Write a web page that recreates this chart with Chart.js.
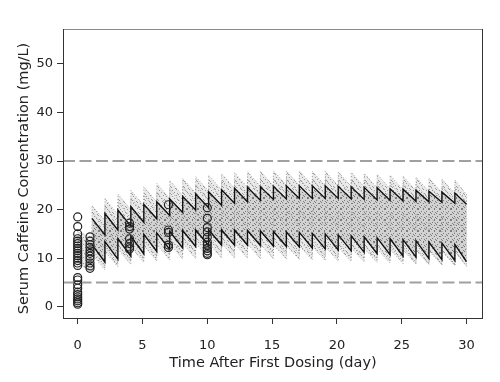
<!DOCTYPE html>
<html>
<head>
<meta charset="utf-8">
<script src="https://cdn.jsdelivr.net/npm/chart.js@4.4.1/dist/chart.umd.min.js"></script>
<style>
  html, body { margin: 0; padding: 0; background: #fff; }
  canvas { display: block; }
</style>
</head>
<body>
<canvas id="c" width="500" height="382"></canvas>
<script>
// ---------------- data ----------------
const xTicks = [0, 5, 10, 15, 20, 25, 30];
const yTicks = [0, 10, 20, 30, 40, 50];

// daily maintenance doses (day)
const doseDays = [1.1, 2.1, 3.1, 4.1, 5.1, 6.1, 7.1, 8.1, 9.1, 10.1,
                  11.1, 12.1, 13.1, 14.1, 15.1, 16.1, 17.1, 18.1, 19.1, 20.1,
                  21.1, 22.1, 23.1, 24.1, 25.1, 26.1, 27.1, 28.1, 29.1];
const endDay = 30;

// upper prediction line: post-dose peaks and next pre-dose troughs (mg/L)
const upperPeaks = [18.2, 19.2, 19.9, 20.6, 21.1, 21.6, 22.2, 22.7, 23.2, 23.7,
                    24.1, 24.4, 24.6, 24.7, 24.8, 24.9, 24.9, 24.9, 24.9, 24.8,
                    24.7, 24.6, 24.5, 24.3, 24.2, 24.0, 23.8, 23.6, 23.4];
const upperTroughs = [14.8, 15.8, 16.6, 17.4, 18.1, 18.8, 19.4, 19.9, 20.4, 20.9,
                      21.3, 21.6, 21.9, 22.1, 22.2, 22.3, 22.3, 22.3, 22.3, 22.2,
                      22.1, 22.0, 21.9, 21.8, 21.7, 21.6, 21.5, 21.3, 21.1];
// lower prediction line
const lowerPeaks = [12.8, 13.4, 14.0, 14.5, 14.9, 15.2, 15.5, 15.7, 15.8, 15.8,
                    15.8, 15.8, 15.7, 15.6, 15.5, 15.4, 15.3, 15.1, 15.0, 14.8,
                    14.6, 14.4, 14.2, 14.0, 13.8, 13.6, 13.3, 13.1, 12.8];
const lowerTroughs = [9.2, 9.8, 10.4, 10.9, 11.4, 11.8, 12.1, 12.4, 12.6, 12.7,
                      12.7, 12.7, 12.6, 12.5, 12.4, 12.3, 12.1, 11.9, 11.7, 11.5,
                      11.2, 10.9, 10.7, 10.4, 10.2, 9.9, 9.7, 9.5, 9.3];

// envelope of simulated individual profiles (dotted cloud)
const cloudStartDay = 0;
const cloudTopStart = [15.4, 14.3];   // day 0 and just before first maintenance dose
const cloudBotStart = [8.8, 7.4];
const cloudTopPeaks = [20.8, 22.3, 23.2, 24.0, 24.7, 25.4, 26.0, 26.4, 26.8, 27.1,
                       27.4, 27.6, 27.8, 27.9, 28.0, 28.0, 28.0, 27.9, 27.9, 27.8,
                       27.7, 27.5, 27.3, 27.1, 26.9, 26.7, 26.5, 26.3, 26.1];
const cloudTopTroughs = [17.8, 19.0, 20.0, 20.8, 21.6, 22.3, 22.9, 23.4, 23.8, 24.1,
                         24.4, 24.6, 24.8, 24.9, 25.0, 25.0, 25.0, 24.9, 24.9, 24.8,
                         24.7, 24.5, 24.3, 24.1, 23.9, 23.7, 23.5, 23.3, 23.1];
const cloudBotPeaks = [10.8, 11.4, 11.9, 12.3, 12.6, 12.8, 13.0, 13.1, 13.1, 13.1,
                       13.1, 13.0, 12.9, 12.8, 12.7, 12.6, 12.5, 12.4, 12.3, 12.2,
                       12.1, 12.0, 11.9, 11.8, 11.7, 11.6, 11.5, 11.4, 11.3];
const cloudBotTroughs = [7.6, 8.2, 8.7, 9.1, 9.4, 9.6, 9.8, 9.9, 10.0, 10.0,
                         10.0, 10.0, 9.9, 9.9, 9.8, 9.7, 9.6, 9.5, 9.4, 9.3,
                         9.2, 9.1, 9.0, 8.9, 8.8, 8.7, 8.6, 8.5, 8.4];

// a few individual simulated profiles (dotted)
const indivHighPeaks = [19.5, 20.8, 21.6, 22.4, 23.0, 23.6, 24.2, 24.7, 25.1, 25.5,
                        25.8, 26.0, 26.2, 26.3, 26.4, 26.4, 26.4, 26.3, 26.3, 26.2,
                        26.1, 26.0, 25.8, 25.6, 25.4, 25.2, 25.0, 24.8, 24.6];
const indivHighTroughs = [16.2, 17.3, 18.2, 19.0, 19.8, 20.4, 21.0, 21.5, 21.9, 22.3,
                          22.6, 22.8, 23.0, 23.1, 23.2, 23.2, 23.2, 23.1, 23.1, 23.0,
                          22.9, 22.8, 22.6, 22.4, 22.3, 22.1, 21.9, 21.7, 21.5];
const indivMidPeaks = [15.5, 16.3, 17.0, 17.6, 18.1, 18.5, 18.9, 19.2, 19.5, 19.7,
                       19.9, 20.0, 20.1, 20.1, 20.1, 20.1, 20.0, 20.0, 19.9, 19.8,
                       19.7, 19.6, 19.5, 19.3, 19.2, 19.0, 18.9, 18.7, 18.5];
const indivMidTroughs = [12.0, 12.8, 13.5, 14.1, 14.6, 15.0, 15.4, 15.7, 16.0, 16.2,
                         16.4, 16.5, 16.6, 16.6, 16.6, 16.6, 16.5, 16.5, 16.4, 16.3,
                         16.2, 16.1, 16.0, 15.8, 15.7, 15.5, 15.4, 15.2, 15.0];
const indivLowPeaks = [11.8, 12.4, 12.9, 13.4, 13.7, 14.0, 14.2, 14.3, 14.4, 14.4,
                       14.4, 14.3, 14.2, 14.1, 14.0, 13.9, 13.8, 13.6, 13.5, 13.3,
                       13.1, 12.9, 12.7, 12.5, 12.3, 12.1, 11.9, 11.7, 11.5];
const indivLowTroughs = [8.4, 9.0, 9.5, 10.0, 10.4, 10.7, 10.9, 11.1, 11.2, 11.2,
                         11.2, 11.2, 11.1, 11.0, 10.9, 10.8, 10.6, 10.5, 10.3, 10.1,
                         9.9, 9.7, 9.5, 9.3, 9.1, 8.9, 8.7, 8.5, 8.3];

// observed serum concentrations
const obsTimes = [0, 0.95, 4, 7, 10];
const obsValues = [
  [18.5, 16.5, 15.0, 14.0, 13.5, 13.0, 12.5, 12.0, 11.5, 11.0, 10.5, 10.0, 9.5, 9.0, 8.5,
   6.0, 5.5, 4.5, 3.8, 3.0, 2.5, 2.0, 1.6, 1.2, 0.8, 0.5],
  [14.4, 13.5, 12.8, 12.2, 11.5, 11.0, 10.4, 9.8, 9.0, 8.4, 7.9],
  [17.2, 16.5, 16.0, 14.0, 13.0, 12.3, 11.9],
  [21.0, 15.8, 15.3, 12.7, 12.2],
  [20.4, 18.2, 16.3, 15.4, 14.3, 13.3, 12.7, 12.0, 11.5, 11.0, 10.7]
];

// therapeutic range limits
const upperLimit = 30;
const lowerLimit = 5;

const xTitle = 'Time After First Dosing (day)';
const yTitle = 'Serum Caffeine Concentration (mg/L)';

// ---------------- build ----------------
const X_MIN = -1.134, X_MAX = 31.27, Y_MIN = -2.33, Y_MAX = 57.21;

function sawtooth(peaks, troughs) {
  const pts = [];
  for (let i = 0; i < peaks.length; i++) {
    pts.push({x: doseDays[i], y: peaks[i]});
    const tNext = i + 1 < doseDays.length ? doseDays[i + 1] : endDay;
    pts.push({x: tNext, y: troughs[i]});
  }
  return pts;
}

const upperLine = sawtooth(upperPeaks, upperTroughs);
const lowerLine = sawtooth(lowerPeaks, lowerTroughs);

const cloudTop = [{x: cloudStartDay, y: cloudTopStart[0]}, {x: doseDays[0], y: cloudTopStart[1]}]
  .concat(sawtooth(cloudTopPeaks, cloudTopTroughs));
const cloudBot = [{x: cloudStartDay, y: cloudBotStart[0]}, {x: doseDays[0], y: cloudBotStart[1]}]
  .concat(sawtooth(cloudBotPeaks, cloudBotTroughs));
const cloudPolygon = cloudTop.concat(cloudBot.slice().reverse());
const innerPolygon = upperLine.concat(lowerLine.slice().reverse());

const observed = [];
obsTimes.forEach((t, i) => obsValues[i].forEach(v => observed.push({x: t, y: v})));

const canvas = document.getElementById('c');
const ctx = canvas.getContext('2d');

// stipple texture (styling only)
function stipple(size, base, dotColor, rule) {
  const c = document.createElement('canvas');
  c.width = size; c.height = size;
  const g = c.getContext('2d');
  g.fillStyle = base;
  g.fillRect(0, 0, size, size);
  g.fillStyle = dotColor;
  for (let x = 0; x < size; x++)
    for (let y = 0; y < size; y++)
      if (rule(x, y)) g.fillRect(x, y, 1, 1);
  return ctx.createPattern(c, 'repeat');
}
const outerPattern = stipple(13, '#e9e9e9', '#9a9a9a', (x, y) => (x * 5 + y * 3 + x * y) % 7 === 0);
const innerPattern = stipple(11, '#d2d2d2', '#7c7c7c', (x, y) => (x * 3 + y * 7 + 2 * x * y) % 5 === 0);

const boxPlugin = {
  id: 'box',
  afterDraw(chart) {
    const {left, right, top, bottom} = chart.chartArea;
    const c = chart.ctx;
    c.save();
    c.lineWidth = 1;
    c.strokeStyle = '#8a8a8a';
    c.beginPath(); c.moveTo(left, top + 0.5); c.lineTo(right, top + 0.5); c.stroke();
    c.strokeStyle = '#333';
    c.beginPath();
    c.moveTo(left + 0.5, top); c.lineTo(left + 0.5, bottom);
    c.moveTo(left, bottom + 0.5); c.lineTo(right, bottom + 0.5);
    c.moveTo(right - 0.5, top); c.lineTo(right - 0.5, bottom);
    c.stroke();
    // y-axis title
    c.fillStyle = '#222';
    c.font = "14.5px 'DejaVu Sans', sans-serif";
    c.textAlign = 'center';
    c.textBaseline = 'middle';
    c.translate(24.5, 178.5);
    c.rotate(-Math.PI / 2);
    c.fillText(yTitle, 0, 0);
    c.restore();
  }
};

Chart.defaults.font.family = "'DejaVu Sans', sans-serif";
Chart.defaults.font.size = 13;
Chart.defaults.color = '#222';

const dotted = (label, data) => ({
  label, data, order: 8, borderColor: '#8c8c8c', borderWidth: 1, borderDash: [1, 2],
  pointRadius: 0, fill: false, tension: 0
});

new Chart(ctx, {
  type: 'line',
  data: {
    datasets: [
      { label: 'cloud', data: cloudPolygon, order: 10, borderWidth: 1, borderColor: '#a8a8a8',
        borderDash: [1, 2], pointRadius: 0, backgroundColor: outerPattern, fill: 'shape' },
      { label: 'inner', data: innerPolygon, order: 9, borderWidth: 0, pointRadius: 0,
        backgroundColor: innerPattern, fill: 'shape' },
      dotted('indiv high', sawtooth(indivHighPeaks, indivHighTroughs)),
      dotted('indiv mid', sawtooth(indivMidPeaks, indivMidTroughs)),
      dotted('indiv low', sawtooth(indivLowPeaks, indivLowTroughs)),
      { label: 'upper limit', data: [{x: X_MIN, y: upperLimit}, {x: X_MAX, y: upperLimit}], order: 6,
        borderColor: '#a0a0a0', borderWidth: 2, borderDash: [12, 4.5], pointRadius: 0, fill: false },
      { label: 'lower limit', data: [{x: X_MIN, y: lowerLimit}, {x: X_MAX, y: lowerLimit}], order: 6,
        borderColor: '#a0a0a0', borderWidth: 2, borderDash: [12, 4.5], pointRadius: 0, fill: false },
      { label: 'upper', data: upperLine, order: 3, borderColor: '#111', borderWidth: 1.4,
        pointRadius: 0, fill: false, tension: 0 },
      { label: 'lower', data: lowerLine, order: 3, borderColor: '#111', borderWidth: 1.4,
        pointRadius: 0, fill: false, tension: 0 },
      { label: 'observed', data: observed, order: 1, showLine: false, pointRadius: 4,
        pointStyle: 'circle', pointBorderColor: '#222', pointBorderWidth: 1.2,
        pointBackgroundColor: 'rgba(0,0,0,0)' }
    ]
  },
  options: {
    responsive: false,
    animation: false,
    devicePixelRatio: 1,
    layout: { padding: { left: 0, top: 29, right: 17, bottom: 0 } },
    plugins: { legend: { display: false }, tooltip: { enabled: false } },
    scales: {
      x: {
        type: 'linear', min: X_MIN, max: X_MAX,
        afterBuildTicks: s => { s.ticks = xTicks.map(v => ({value: v})); },
        afterFit: s => { s.height = 64; },
        grid: { drawOnChartArea: false, tickLength: 6, color: '#333', tickWidth: 1 },
        border: { display: false },
        ticks: { padding: 14, autoSkip: false, maxRotation: 0, color: '#222' },
        title: { display: true, text: xTitle, color: '#222',
                 font: { size: 14.5 }, padding: { top: 0, bottom: 10 } }
      },
      y: {
        type: 'linear', min: Y_MIN, max: Y_MAX,
        afterBuildTicks: s => { s.ticks = yTicks.map(v => ({value: v})); },
        afterFit: s => { s.width = 63; },
        grid: { drawOnChartArea: false, tickLength: 6, color: '#333', tickWidth: 1 },
        border: { display: false },
        ticks: { padding: 4, autoSkip: false, color: '#222' },
        title: { display: false }
      }
    }
  },
  plugins: [boxPlugin]
});
</script>
</body>
</html>
